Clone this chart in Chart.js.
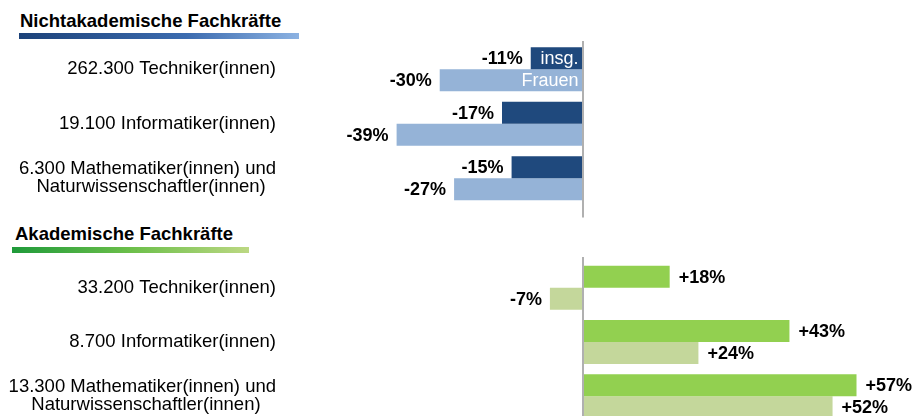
<!DOCTYPE html>
<html lang="de">
<head>
<meta charset="utf-8">
<script src="https://cdn.jsdelivr.net/npm/chart.js@4/dist/chart.umd.min.js"></script>
<style>
  html, body { margin: 0; padding: 0; width: 914px; height: 416px; overflow: hidden; background: #fff; }
  body { position: relative; font-family: "Liberation Sans", Arial, sans-serif; }
  .title { position: absolute; font-weight: bold; font-size: 18.5px; line-height: 18.5px; color: #000; white-space: nowrap; }
  .rule { position: absolute; height: 6px; }
  canvas { position: absolute; left: 0; }
</style>
</head>
<body>
<div class="title" style="left:20px; top:12px;">Nichtakademische Fachkräfte</div>
<div class="rule" style="left:19px; top:33px; width:280px; background: linear-gradient(to right, #1c4279, #3c6cb0 60%, #8cb2e2);"></div>
<div class="title" style="left:15px; top:225px;">Akademische Fachkräfte</div>
<div class="rule" style="left:12px; top:247px; width:237px; background: linear-gradient(to right, #1f9a3a, #6cbf4a 50%, #bcd883);"></div>

<canvas id="nonAcademic" width="914" height="218" style="top:0"></canvas>
<canvas id="academic" width="914" height="215" style="top:218px"></canvas>

<script>
// Veränderung der Beschäftigung in Prozent
var seriesNames = ["insg.", "Frauen"];

var nonAcadLabels = [
  "262.300 Techniker(innen)",
  "19.100 Informatiker(innen)",
  ["6.300 Mathematiker(innen) und", "Naturwissenschaftler(innen)"]
];
var nonAcadTotal = [-11, -17, -15];
var nonAcadWomen = [-30, -39, -27];

var acadLabels = [
  "33.200 Techniker(innen)",
  "8.700 Informatiker(innen)",
  ["13.300 Mathematiker(innen) und", "Naturwissenschaftler(innen)"]
];
var acadTotal = [18, 43, 57];
var acadWomen = [-7, 24, 52];

var FONT = '"Liberation Sans", Arial, sans-serif';
var TICK_SIZE = 18.5;

// Prozentwerte neben den Balken, Reihennamen im ersten Balkenpaar
var valueLabels = {
  id: "valueLabels",
  afterDatasetsDraw: function(chart, args, opts) {
    var ctx = chart.ctx;
    ctx.save();
    ctx.textBaseline = "middle";
    chart.data.datasets.forEach(function(ds, di) {
      var meta = chart.getDatasetMeta(di);
      meta.data.forEach(function(bar, i) {
        var v = ds.data[i];
        var txt = (v > 0 ? "+" : "") + v + "%";
        ctx.font = "bold 18px " + FONT;
        ctx.fillStyle = "#000";
        if (v < 0) {
          ctx.textAlign = "right";
          ctx.fillText(txt, bar.x - 8, bar.y + 1);
        } else {
          ctx.textAlign = "left";
          ctx.fillText(txt, bar.x + 9, bar.y + 1);
        }
        if (opts.showNames && i === 0) {
          ctx.font = "18px " + FONT;
          ctx.fillStyle = "#fff";
          ctx.textAlign = "right";
          ctx.fillText(ds.label, bar.base - 5, bar.y + 1);
        }
      });
    });
    ctx.restore();
  }
};

// senkrechte Nulllinie
var zeroLine = {
  id: "zeroLine",
  afterDatasetsDraw: function(chart, args, opts) {
    var x = Math.round(chart.scales.x.getPixelForValue(0));
    var area = chart.chartArea;
    var ctx = chart.ctx;
    ctx.save();
    ctx.strokeStyle = "#b0b0b0";
    ctx.lineWidth = 2;
    ctx.beginPath();
    ctx.moveTo(x, area.top + opts.above);
    ctx.lineTo(x, area.bottom + opts.below);
    ctx.stroke();
    ctx.restore();
  }
};

// zweizeilige Beschriftungen: kürzere Zeile etwa mittig unter die längere setzen
function centerLines(value) {
  var lab = this.getLabelForValue(value);
  if (!Array.isArray(lab)) return lab;
  var ctx = this.chart.ctx;
  ctx.save();
  ctx.font = TICK_SIZE + "px " + FONT;
  var widest = Math.max.apply(null, lab.map(function(l) { return ctx.measureText(l).width; }));
  var space = ctx.measureText(" ").width;
  var out = lab.map(function(l) {
    var n = Math.floor((widest - ctx.measureText(l).width) / 2 / space);
    return l + " ".repeat(n);
  });
  ctx.restore();
  return out;
}

function makeChart(id, labels, total, women, colors, pad, line, showNames) {
  return new Chart(document.getElementById(id), {
    type: "bar",
    data: {
      labels: labels,
      datasets: [
        { label: seriesNames[0], data: total, backgroundColor: colors[0] },
        { label: seriesNames[1], data: women, backgroundColor: colors[1] }
      ]
    },
    options: {
      indexAxis: "y",
      responsive: false,
      animation: false,
      categoryPercentage: 0.81,
      barPercentage: 1.0,
      layout: { padding: { top: pad[0], bottom: pad[1], left: 0, right: 0 } },
      scales: {
        x: {
          display: false,
          min: -60,
          max: 69
        },
        y: {
          grid: { display: false, drawTicks: false },
          border: { display: false },
          ticks: {
            padding: 20,
            color: "#000",
            font: { family: FONT, size: TICK_SIZE, lineHeight: 0.98 },
            callback: centerLines
          },
          afterFit: function(scale) {
            scale.width = 296;
            scale.paddingTop = 0;
            scale.paddingBottom = 0;
          }
        }
      },
      plugins: {
        legend: { display: false },
        tooltip: { enabled: false },
        valueLabels: { showNames: showNames },
        zeroLine: line
      }
    },
    plugins: [valueLabels, zeroLine]
  });
}

makeChart("nonAcademic", nonAcadLabels, nonAcadTotal, nonAcadWomen,
  ["#1f497d", "#95b3d7"], [42, 12.5], { above: -1, below: 12 }, true);

makeChart("academic", acadLabels, acadTotal, acadWomen,
  ["#92d050", "#c4d79b"], [42.6, 9.7], { above: -3.6, below: 10 }, false);
</script>
</body>
</html>
